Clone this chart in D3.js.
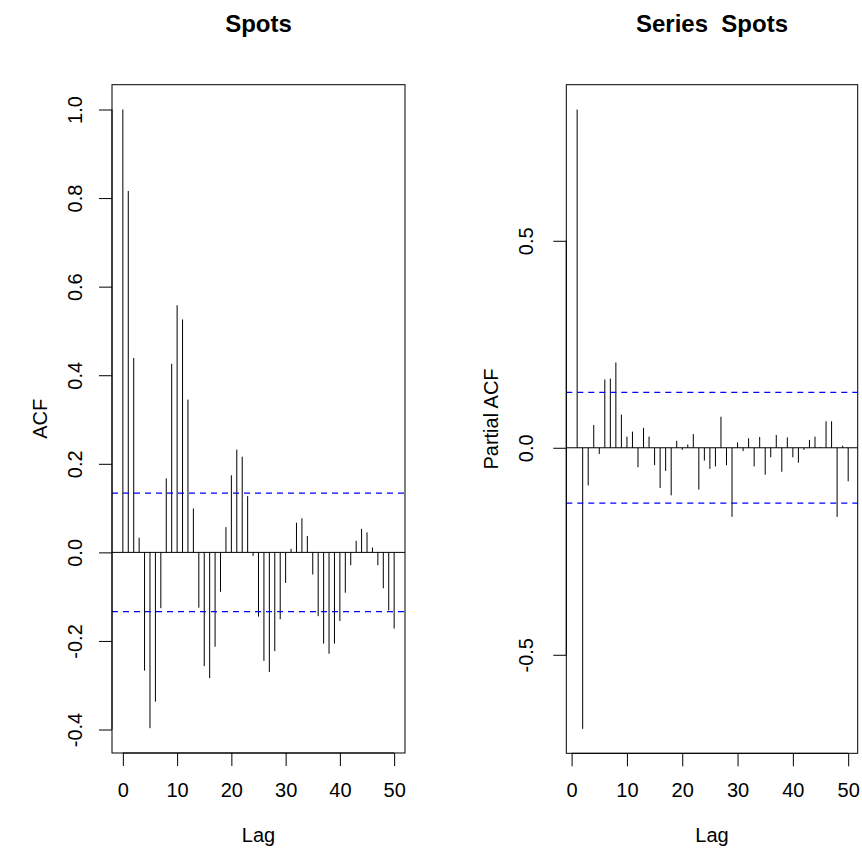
<!DOCTYPE html>
<html>
<head>
<meta charset="utf-8">
<script src="https://cdn.jsdelivr.net/npm/d3@7"></script>
<style>
  body { margin: 0; background: #fff; }
  text { font-family: "Liberation Sans", Arial, Helvetica, sans-serif; }
</style>
</head>
<body>
<script>
// ACF of Spots, lags 0..50
var acfVals = [1.000, 0.816, 0.439, 0.033, -0.267, -0.397, -0.337, -0.126, 0.167, 0.426,
  0.558, 0.526, 0.345, 0.099, -0.125, -0.257, -0.284, -0.213, -0.089, 0.057,
  0.174, 0.232, 0.216, 0.127, -0.008, -0.145, -0.245, -0.270, -0.223, -0.151,
  -0.069, 0.008, 0.067, 0.077, 0.037, -0.050, -0.144, -0.206, -0.229, -0.206,
  -0.155, -0.091, -0.029, 0.026, 0.053, 0.045, 0.011, -0.029, -0.081, -0.131, -0.172];
var acfLags = d3.range(0, 51);

// partial ACF, lags 1..50
var pacfVals = [0.817, -0.679, -0.091, 0.055, -0.015, 0.165, 0.167, 0.206, 0.080, 0.027,
  0.039, -0.047, 0.048, 0.027, -0.042, -0.097, -0.056, -0.115, 0.017, -0.005,
  0.008, 0.033, -0.101, -0.031, -0.051, -0.045, 0.075, -0.042, -0.167, 0.013,
  -0.008, 0.023, -0.045, 0.026, -0.065, -0.023, 0.031, -0.058, 0.025, -0.023,
  -0.036, -0.005, 0.019, 0.027, 0.002, 0.064, 0.064, -0.167, 0.005, -0.081];
var pacfLags = d3.range(1, 51);

var ci = 0.1336;
var xTicks = [0, 10, 20, 30, 40, 50];
var acfTicks = [-0.4, -0.2, 0.0, 0.2, 0.4, 0.6, 0.8, 1.0];
var pacfTicks = [-0.5, 0.0, 0.5];

var W = 862, H = 858;
var svg = d3.select("body").append("svg")
  .attr("width", W)
  .attr("height", H);

function panel(opt) {
  var x = d3.scaleLinear().domain(opt.xlim).range([opt.left, opt.right]);
  var y = d3.scaleLinear().domain(opt.ylim).range([opt.bottom, opt.top]);
  var g = svg.append("g");

  // zero line
  g.append("line")
    .attr("x1", opt.left).attr("x2", opt.right)
    .attr("y1", y(0)).attr("y2", y(0))
    .attr("stroke", "#000");

  // spikes
  g.selectAll("line.spike")
    .data(opt.vals)
    .enter().append("line")
    .attr("class", "spike")
    .attr("x1", function(d, i) { return x(opt.lags[i]); })
    .attr("x2", function(d, i) { return x(opt.lags[i]); })
    .attr("y1", y(0))
    .attr("y2", function(d) { return y(d); })
    .attr("stroke", "#000")
    .attr("stroke-width", 1);

  // ci lines (drawn over the spikes, as R does)
  [ci, -ci].forEach(function(c) {
    g.append("line")
      .attr("x1", opt.left).attr("x2", opt.right)
      .attr("y1", y(c)).attr("y2", y(c))
      .attr("stroke", "#0000ff")
      .attr("stroke-width", 1.2)
      .attr("stroke-dasharray", "6,5");
  });

  // box
  g.append("rect")
    .attr("x", opt.left).attr("y", opt.top)
    .attr("width", opt.right - opt.left)
    .attr("height", opt.bottom - opt.top)
    .attr("fill", "none")
    .attr("stroke", "#000");

  // x axis
  var xa = g.append("g")
    .attr("transform", "translate(0," + opt.bottom + ")")
    .call(d3.axisBottom(x).tickValues(xTicks).tickSize(13).tickPadding(0).tickFormat(d3.format("d")));
  xa.select(".domain").remove();
  xa.selectAll(".tick text").attr("y", 44).attr("dy", null).attr("font-size", 20).attr("fill", "#000");
  xa.append("line")
    .attr("x1", x(xTicks[0])).attr("x2", x(xTicks[xTicks.length - 1]))
    .attr("stroke", "#000");

  // y axis
  var ya = g.append("g")
    .attr("transform", "translate(" + opt.left + ",0)")
    .call(d3.axisLeft(y).tickValues(opt.yTicks).tickSize(13)
      .tickFormat(function(d) { return d.toFixed(1); }));
  ya.select(".domain").remove();
  ya.selectAll(".tick text")
    .attr("x", 0).attr("dy", null)
    .attr("y", -opt.labOff)
    .attr("transform", "rotate(-90)")
    .attr("text-anchor", "middle")
    .attr("font-size", 20)
    .attr("fill", "#000");
  ya.append("line")
    .attr("y1", y(opt.yTicks[0])).attr("y2", y(opt.yTicks[opt.yTicks.length - 1]))
    .attr("stroke", "#000");

  var cx = (opt.left + opt.right) / 2;
  var cy = (opt.top + opt.bottom) / 2;

  svg.append("text")
    .attr("x", cx).attr("y", 32)
    .attr("text-anchor", "middle")
    .attr("font-size", 24)
    .attr("font-weight", "bold")
    .style("white-space", "pre")
    .text(opt.title);

  svg.append("text")
    .attr("x", cx).attr("y", 842)
    .attr("text-anchor", "middle")
    .attr("font-size", 20)
    .text("Lag");

  svg.append("text")
    .attr("transform", "translate(" + opt.ylabX + "," + cy + ") rotate(-90)")
    .attr("text-anchor", "middle")
    .attr("font-size", 20)
    .text(opt.ylab);
}

panel({
  xlim: [-2, 52], ylim: [-0.453, 1.056],
  left: 112, right: 405, top: 84.7, bottom: 753,
  lags: acfLags, vals: acfVals, yTicks: acfTicks,
  labOff: 30, ylabX: 47,
  title: "Spots", ylab: "ACF"
});

panel({
  xlim: [-0.96, 51.72], ylim: [-0.738, 0.877],
  left: 566.3, right: 857.7, top: 84.7, bottom: 753.3,
  lags: pacfLags, vals: pacfVals, yTicks: pacfTicks,
  labOff: 33, ylabX: 498,
  title: "Series  Spots", ylab: "Partial ACF"
});
</script>
</body>
</html>
